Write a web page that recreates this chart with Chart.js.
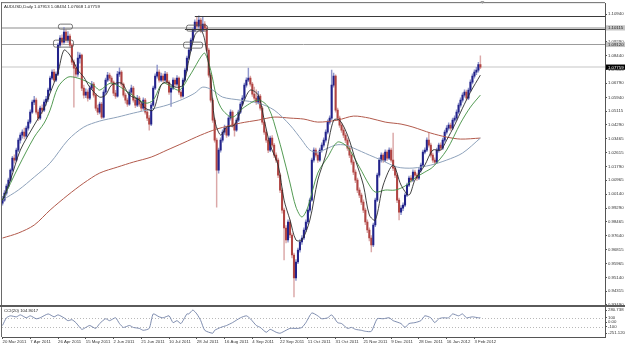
<!DOCTYPE html>
<html><head><meta charset="utf-8">
<script src="https://cdn.jsdelivr.net/npm/chart.js@4.4.1/dist/chart.umd.min.js"></script>
<style>
html,body{margin:0;padding:0;background:#fff;}
#wrap{position:relative;width:625px;height:346px;overflow:hidden;background:#fff;}
#c1{position:absolute;left:0;top:0;}
#c2{position:absolute;left:0;top:304px;}
</style></head><body>
<div id="wrap">
<canvas id="c1" width="625" height="310" style="width:625px;height:310px"></canvas>
<canvas id="c2" width="625" height="42" style="width:625px;height:42px"></canvas>
</div>
<script>
const symbolName = 'AUDUSD,Daily';
const opens = [
0.9960,0.9978,1.0020,1.0062,1.0098,1.0158,1.0230,1.0218,1.0278,1.0338,
1.0368,1.0386,1.0362,1.0410,1.0446,1.0506,1.0566,1.0578,1.0506,1.0470,
1.0530,1.0518,1.0566,1.0584,1.0638,1.0710,1.0746,1.0698,1.0734,1.0908,
1.0950,1.0926,1.0986,1.0938,1.0962,1.0908,1.0806,1.0770,1.0734,1.0830,
1.0848,1.0650,1.0608,1.0626,1.0590,1.0650,1.0674,1.0608,1.0530,1.0506,
1.0554,1.0476,1.0626,1.0698,1.0728,1.0710,1.0686,1.0620,1.0602,1.0734,
1.0746,1.0674,1.0608,1.0578,1.0554,1.0626,1.0650,1.0578,1.0548,1.0590,
1.0554,1.0530,1.0578,1.0506,1.0470,1.0434,1.0548,1.0650,1.0722,1.0746,
1.0698,1.0722,1.0698,1.0734,1.0686,1.0626,1.0650,1.0698,1.0674,1.0710,
1.0626,1.0602,1.0698,1.0758,1.0830,1.0878,1.0938,1.0998,1.1046,1.1022,
1.1058,1.0998,1.1034,1.1010,1.0878,1.0728,1.0578,1.0458,1.0338,1.0158,
1.0278,1.0338,1.0386,1.0410,1.0368,1.0470,1.0506,1.0428,1.0398,1.0458,
1.0506,1.0554,1.0590,1.0668,1.0698,1.0710,1.0674,1.0614,1.0590,1.0566,
1.0602,1.0530,1.0446,1.0386,1.0338,1.0278,1.0350,1.0308,1.0248,1.0218,
1.0128,1.0038,0.9918,0.9810,0.9738,0.9846,0.9768,0.9648,0.9510,0.9606,
0.9678,0.9726,0.9750,0.9798,0.9846,0.9918,0.9978,1.0218,1.0278,1.0248,
1.0218,1.0278,1.0308,1.0338,1.0386,1.0446,1.0470,1.0668,1.0722,1.0518,
1.0470,1.0428,1.0398,1.0368,1.0338,1.0290,1.0248,1.0206,1.0146,1.0098,
1.0038,1.0008,0.9966,0.9918,0.9846,0.9798,0.9750,0.9708,0.9828,0.9978,
1.0128,1.0218,1.0248,1.0218,1.0266,1.0230,1.0278,1.0218,1.0170,1.0128,
0.9978,0.9906,0.9930,0.9948,1.0008,1.0068,1.0110,1.0098,1.0146,1.0128,
1.0110,1.0158,1.0188,1.0266,1.0278,1.0338,1.0308,1.0248,1.0218,1.0206,
1.0278,1.0308,1.0290,1.0338,1.0386,1.0410,1.0428,1.0410,1.0458,1.0470,
1.0506,1.0548,1.0578,1.0608,1.0626,1.0590,1.0638,1.0686,1.0722,1.0746,
1.0758,1.07913];
const highs = [
1.0000,1.0035,1.0074,1.0110,1.0166,1.0240,1.0250,1.0290,1.0350,1.0382,
1.0400,1.0410,1.0422,1.0460,1.0520,1.0578,1.0600,1.0590,1.0520,1.0542,
1.0550,1.0580,1.0600,1.0650,1.0722,1.0760,1.0762,1.0748,1.0920,1.0966,
1.0970,1.1015,1.1000,1.0990,1.0975,1.0918,1.0820,1.0790,1.0866,1.0862,
1.0855,1.0668,1.0645,1.0640,1.0662,1.0690,1.0685,1.0618,1.0548,1.0566,
1.0564,1.0640,1.0710,1.0745,1.0740,1.0722,1.0694,1.0636,1.0750,1.0772,
1.0755,1.0682,1.0620,1.0590,1.0640,1.0668,1.0660,1.0590,1.0606,1.0600,
1.0568,1.0592,1.0588,1.0520,1.0485,1.0560,1.0662,1.0736,1.0788,1.0760,
1.0740,1.0735,1.0750,1.0745,1.0695,1.0665,1.0712,1.0710,1.0725,1.0718,
1.0638,1.0710,1.0770,1.0842,1.0890,1.0950,1.1010,1.1060,1.1080,1.1084,
1.1070,1.1075,1.1050,1.1020,1.0890,1.0740,1.0590,1.0470,1.0350,1.0290,
1.0352,1.0400,1.0428,1.0420,1.0482,1.0520,1.0515,1.0440,1.0470,1.0518,
1.0566,1.0605,1.0680,1.0712,1.0770,1.0722,1.0684,1.0656,1.0640,1.0630,
1.0612,1.0540,1.0458,1.0398,1.0350,1.0362,1.0365,1.0318,1.0262,1.0230,
1.0140,1.0050,0.9930,0.9825,0.9860,0.9858,0.9780,0.9660,0.9620,0.9690,
0.9740,0.9765,0.9812,0.9860,0.9930,0.9990,1.0230,1.0292,1.0290,1.0262,
1.0290,1.0322,1.0352,1.0400,1.0460,1.0484,1.0758,1.0740,1.0730,1.0530,
1.0482,1.0440,1.0412,1.0380,1.0350,1.0302,1.0262,1.0218,1.0160,1.0110,
1.0052,1.0020,0.9980,0.9930,0.9860,0.9812,0.9765,0.9840,0.9990,1.0140,
1.0232,1.0262,1.0260,1.0280,1.0278,1.0292,1.0290,1.0380,1.0182,1.0140,
0.9990,0.9945,0.9962,1.0020,1.0080,1.0122,1.0125,1.0160,1.0158,1.0140,
1.0170,1.0200,1.0278,1.0292,1.0352,1.0380,1.0320,1.0260,1.0232,1.0290,
1.0320,1.0322,1.0350,1.0398,1.0425,1.0442,1.0440,1.0470,1.0484,1.0520,
1.0560,1.0592,1.0622,1.0640,1.0638,1.0650,1.0700,1.0735,1.0760,1.0775,
1.0805,1.08434];
const lows = [
0.9948,0.9970,1.0008,1.0050,1.0090,1.0150,1.0200,1.0210,1.0268,1.0320,
1.0350,1.0345,1.0350,1.0398,1.0436,1.0498,1.0550,1.0494,1.0455,1.0460,
1.0500,1.0508,1.0548,1.0570,1.0630,1.0700,1.0685,1.0688,1.0725,1.0896,
1.0910,1.0918,1.0924,1.0925,1.0896,1.0790,1.0536,1.0715,1.0720,1.0800,
1.0635,1.0590,1.0592,1.0572,1.0580,1.0640,1.0596,1.0516,1.0490,1.0495,
1.0466,1.0470,1.0615,1.0688,1.0695,1.0672,1.0605,1.0588,1.0595,1.0720,
1.0662,1.0596,1.0560,1.0540,1.0546,1.0615,1.0566,1.0532,1.0538,1.0540,
1.0515,1.0520,1.0494,1.0455,1.0398,1.0425,1.0540,1.0640,1.0710,1.0685,
1.0688,1.0684,1.0690,1.0672,1.0612,1.0540,1.0640,1.0660,1.0664,1.0612,
1.0590,1.0595,1.0690,1.0750,1.0820,1.0870,1.0928,1.0988,1.1008,1.1010,
1.0985,1.0990,1.0995,1.0866,1.0715,1.0565,1.0444,1.0325,0.9936,1.0140,
1.0266,1.0326,1.0372,1.0354,1.0360,1.0458,1.0415,1.0362,1.0390,1.0448,
1.0496,1.0545,1.0580,1.0655,1.0688,1.0662,1.0600,1.0576,1.0552,1.0555,
1.0518,1.0432,1.0372,1.0324,1.0262,1.0268,1.0295,1.0232,1.0204,1.0112,
1.0022,0.9900,0.9618,0.9720,0.9725,0.9752,0.9630,0.9396,0.9495,0.9596,
0.9665,0.9712,0.9740,0.9788,0.9835,0.9905,0.9970,1.0205,1.0235,1.0204,
1.0210,1.0266,1.0296,1.0326,1.0375,1.0434,1.0460,1.0655,1.0505,1.0456,
1.0414,1.0384,1.0352,1.0322,1.0276,1.0232,1.0192,1.0130,1.0082,1.0022,
0.9992,0.9950,0.9902,0.9830,0.9782,0.9732,0.9666,0.9698,0.9818,0.9968,
1.0115,1.0205,1.0204,1.0208,1.0216,1.0220,1.0205,1.0155,1.0112,0.9962,
0.9858,0.9890,0.9915,0.9938,0.9998,1.0058,1.0085,1.0088,1.0115,1.0096,
1.0100,1.0146,1.0178,1.0255,1.0268,1.0295,1.0235,1.0204,1.0190,1.0196,
1.0266,1.0276,1.0280,1.0326,1.0374,1.0398,1.0396,1.0400,1.0446,1.0458,
1.0495,1.0536,1.0566,1.0596,1.0578,1.0580,1.0628,1.0675,1.0710,1.0730,
1.0745,1.07668];
const closes = [
0.9978,1.0020,1.0062,1.0098,1.0158,1.0230,1.0218,1.0278,1.0338,1.0368,
1.0386,1.0362,1.0410,1.0446,1.0506,1.0566,1.0578,1.0506,1.0470,1.0530,
1.0518,1.0566,1.0584,1.0638,1.0710,1.0746,1.0698,1.0734,1.0908,1.0950,
1.0926,1.0986,1.0938,1.0962,1.0908,1.0806,1.0770,1.0734,1.0830,1.0848,
1.0650,1.0608,1.0626,1.0590,1.0650,1.0674,1.0608,1.0530,1.0506,1.0554,
1.0476,1.0626,1.0698,1.0728,1.0710,1.0686,1.0620,1.0602,1.0734,1.0746,
1.0674,1.0608,1.0578,1.0554,1.0626,1.0650,1.0578,1.0548,1.0590,1.0554,
1.0530,1.0578,1.0506,1.0470,1.0434,1.0548,1.0650,1.0722,1.0746,1.0698,
1.0722,1.0698,1.0734,1.0686,1.0626,1.0650,1.0698,1.0674,1.0710,1.0626,
1.0602,1.0698,1.0758,1.0830,1.0878,1.0938,1.0998,1.1046,1.1022,1.1058,
1.0998,1.1034,1.1010,1.0878,1.0728,1.0578,1.0458,1.0338,1.0158,1.0278,
1.0338,1.0386,1.0410,1.0368,1.0470,1.0506,1.0428,1.0398,1.0458,1.0506,
1.0554,1.0590,1.0668,1.0698,1.0710,1.0674,1.0614,1.0590,1.0566,1.0602,
1.0530,1.0446,1.0386,1.0338,1.0278,1.0350,1.0308,1.0248,1.0218,1.0128,
1.0038,0.9918,0.9810,0.9738,0.9846,0.9768,0.9648,0.9510,0.9606,0.9678,
0.9726,0.9750,0.9798,0.9846,0.9918,0.9978,1.0218,1.0278,1.0248,1.0218,
1.0278,1.0308,1.0338,1.0386,1.0446,1.0470,1.0668,1.0722,1.0518,1.0470,
1.0428,1.0398,1.0368,1.0338,1.0290,1.0248,1.0206,1.0146,1.0098,1.0038,
1.0008,0.9966,0.9918,0.9846,0.9798,0.9750,0.9708,0.9828,0.9978,1.0128,
1.0218,1.0248,1.0218,1.0266,1.0230,1.0278,1.0218,1.0170,1.0128,0.9978,
0.9906,0.9930,0.9948,1.0008,1.0068,1.0110,1.0098,1.0146,1.0128,1.0110,
1.0158,1.0188,1.0266,1.0278,1.0338,1.0308,1.0248,1.0218,1.0206,1.0278,
1.0308,1.0290,1.0338,1.0386,1.0410,1.0428,1.0410,1.0458,1.0470,1.0506,
1.0548,1.0578,1.0608,1.0626,1.0590,1.0638,1.0686,1.0722,1.0746,1.0758,
1.07913,1.07759];

// moving averages (bar index, price)
const maFastX = [0,4,9,16,21,24,28,31,34,38,41,44,49,52,55,60,64,69,72,76,80,83,87,91,94,97,100,102,105,107,110,113,117,122,125,129,132,135,139,142,145,148,151,155,159,163,167,170,174,178,182,185,188,192,197,201,205,208,213,217,221,224,228,232,236,241];
const maFastY = [0.9978,1.0098,1.0278,1.0428,1.0530,1.0620,1.0746,1.0878,1.0848,1.0758,1.0716,1.0656,1.0596,1.0608,1.0668,1.0680,1.0608,1.0578,1.0530,1.0518,1.0668,1.0686,1.0656,1.0668,1.0818,1.0968,1.0998,1.0938,1.0698,1.0458,1.0368,1.0416,1.0428,1.0578,1.0638,1.0608,1.0458,1.0308,1.0188,0.9978,0.9858,0.9738,0.9738,0.9858,1.0098,1.0248,1.0458,1.0458,1.0368,1.0218,1.0068,0.9888,0.9858,1.0068,1.0188,1.0068,1.0008,1.0098,1.0188,1.0278,1.0278,1.0338,1.0428,1.0530,1.0626,1.0728];
const maMidX = [0,8,16,21,24,28,33,38,43,47,49,55,64,72,76,81,89,94,97,100,102,105,108,111,116,122,129,134,139,143,145,148,151,154,159,164,169,174,180,185,188,193,198,203,208,213,217,224,231,236,241];
const maMidY = [0.9978,1.0176,1.0356,1.0440,1.0518,1.0656,1.0716,1.0710,1.0686,1.0656,1.0638,1.0680,1.0620,1.0560,1.0578,1.0680,1.0638,1.0716,1.0776,1.0836,1.0860,1.0758,1.0596,1.0518,1.0476,1.0536,1.0578,1.0536,1.0356,1.0176,1.0080,0.9936,0.9876,0.9936,1.0140,1.0236,1.0326,1.0296,1.0176,1.0068,1.0026,1.0038,1.0038,1.0062,1.0110,1.0146,1.0176,1.0278,1.0440,1.0536,1.0608];
const ma50X = [0,8,16,24,33,41,49,58,66,75,83,91,97,101,106,111,120,129,137,145,151,155,159,168,173,177,185,191,199,207,216,224,232,241];
const ma50Y = [0.9978,1.0038,1.0116,1.0200,1.0338,1.0416,1.0452,1.0476,1.0500,1.0524,1.0548,1.0584,1.0620,1.0656,1.0638,1.0596,1.0578,1.0560,1.0518,1.0428,1.0338,1.0278,1.0266,1.0308,1.0308,1.0290,1.0248,1.0218,1.0176,1.0170,1.0188,1.0218,1.0260,1.0350];
const ma200X = [0,8,16,24,33,41,49,58,66,75,83,91,100,108,120,129,137,145,152,159,169,177,185,193,201,207,216,224,231,241];
const ma200Y = [0.9750,0.9780,0.9828,0.9918,1.0008,1.0080,1.0140,1.0176,1.0206,1.0236,1.0278,1.0320,1.0368,1.0404,1.0440,1.0458,1.0476,1.0470,1.0464,1.0446,1.0458,1.0482,1.0470,1.0446,1.0434,1.0416,1.0380,1.0356,1.0344,1.0350];

// CCI(20)
const cciX = [0,2,4,7,9,12,14,17,19,23,26,28,31,33,35,37,40,42,44,47,49,52,54,57,59,61,64,66,69,71,74,76,79,81,84,86,88,90,93,94,96,98,100,102,106,107,110,113,116,120,123,125,128,130,133,135,138,140,143,145,149,151,153,156,159,161,164,166,169,171,174,176,178,181,183,186,189,192,195,197,201,203,205,208,211,213,216,218,220,222,225,227,230,232,234,237,240,241];
const cciY = [-75,102,147,124,169,102,147,80,102,191,124,169,102,36,58,-9,-164,-120,-75,-142,-31,80,36,102,-31,-120,-75,-120,-142,-186,-142,191,124,102,147,-9,36,-31,191,191,280,191,36,-186,-253,-186,-120,-75,-9,102,147,80,-75,-120,-231,-164,-231,-253,-186,-142,-142,-120,-9,213,147,80,102,169,-9,-31,-142,-120,-164,-186,-209,-209,80,80,102,36,-31,-120,-31,-9,36,147,102,-9,80,102,102,191,147,191,102,124,102,104.9017];
const cciTicks = [-251.12, -100, 0, 100, 280.738];
const cciTickLabels = ['-251.120', '-100', '0.00', '100', '280.738'];
const cciLevels = [100, -100];

// axes
const priceTicks = [0.93490,0.94315,0.95140,0.95965,0.96815,0.97640,0.98465,0.99290,1.00140,1.00965,1.01790,1.02615,1.03465,1.04290,1.05115,1.05940,1.06790,1.07615,1.08440,1.09290,1.10115,1.10940];
const dateTickIdx = [0,14,28,42,56,70,84,98,112,126,140,154,168,182,196,210,224,238];
const dateLabels = ['20 Mar 2011','7 Apr 2011','26 Apr 2011','15 May 2011','2 Jun 2011','21 Jun 2011','10 Jul 2011','28 Jul 2011','16 Aug 2011','4 Sep 2011','22 Sep 2011','11 Oct 2011','31 Oct 2011','21 Nov 2011','9 Dec 2011','28 Dec 2011','16 Jan 2012','3 Feb 2012'];

// drawn objects (bar index / price)
const hLinePrices = [1.10115, 1.09120];
const zoneLines = [[97, 1.1082], [92, 1.1004]];
const boxes = [[28.2,35.3,1.1034,1.1004],[25.7,35.8,1.0938,1.0896],[92.8,103.4,1.1028,1.0992],[91.3,100.9,1.0926,1.0890]];

const N = closes.length;
const xy = (xs, ys) => xs.map((x, i) => ({x, y: ys[i]}));
const bodyData = closes.map((c, i) => ({x: i, y: [opens[i], c]}));
const wickData = closes.map((c, i) => ({x: i, y: [lows[i], highs[i]]}));
const isUp = closes.map((c, i) => c >= opens[i]);
const FONT = 'Liberation Sans, Arial, sans-serif';
const tickFont = {family: FONT, size: 4.3, lineHeight: 1};
const X_MIN = -0.25, X_MAX = 303.85;

const overlay1 = {
  id: 'overlay1',
  beforeDatasetsDraw(chart) {
    const {ctx, chartArea: a, scales: {y}} = chart;
    ctx.save();
    const last = closes[N - 1];
    const lp = Math.round(y.getPixelForValue(last));
    ctx.strokeStyle = '#d8d8d8'; ctx.lineWidth = 1.5;
    ctx.beginPath(); ctx.moveTo(a.left, lp); ctx.lineTo(a.right, lp); ctx.stroke();
    hLinePrices.forEach((p, k) => {
      const py = Math.round(y.getPixelForValue(p)) + (k === 0 ? 0 : 0.5);
      ctx.strokeStyle = k === 0 ? '#c6c6c6' : '#9c9c9c';
      ctx.lineWidth = k === 0 ? 2 : 1;
      ctx.beginPath(); ctx.moveTo(a.left, py); ctx.lineTo(a.right, py); ctx.stroke();
    });
    ctx.restore();
  },
  afterDatasetsDraw(chart) {
    const {ctx, chartArea: a, scales: {x, y}} = chart;
    ctx.save();
    ctx.strokeStyle = '#3a3a3a'; ctx.lineWidth = 1;
    zoneLines.forEach(([i0, p]) => {
      const py = Math.round(y.getPixelForValue(p)) + 0.5;
      ctx.beginPath(); ctx.moveTo(x.getPixelForValue(i0), py); ctx.lineTo(a.right, py); ctx.stroke();
    });
    ctx.strokeStyle = '#555'; ctx.lineWidth = 0.8;
    boxes.forEach(([i0, i1, pt, pb]) => {
      const x0 = x.getPixelForValue(i0), x1 = x.getPixelForValue(i1);
      const y0 = y.getPixelForValue(pt), y1 = y.getPixelForValue(pb);
      ctx.beginPath(); ctx.roundRect(x0, y0, x1 - x0, y1 - y0, 2); ctx.stroke();
    });
    ctx.restore();
  },
  afterDraw(chart) {
    const {ctx, chartArea: a, scales: {x, y}} = chart;
    ctx.save();
    ctx.strokeStyle = '#6a6a6a'; ctx.lineWidth = 1;
    ctx.beginPath(); ctx.moveTo(1.5, a.top - 1); ctx.lineTo(1.5, a.bottom); ctx.stroke();
    ctx.beginPath(); ctx.moveTo(1, a.top - 0.5); ctx.lineTo(a.right, a.top - 0.5); ctx.stroke();
    ctx.fillStyle = '#5a5a5a';
    ctx.fillRect(0, a.bottom, chart.width, 2);
    ctx.font = '4.3px ' + FONT; ctx.fillStyle = '#222'; ctx.textBaseline = 'middle'; ctx.textAlign = 'left';
    const title = symbolName + ' ' + [opens, highs, lows, closes].map(arr => arr[N - 1].toFixed(5)).join(' ');
    ctx.fillText(title, 4, 7);
    const label = (p, bg, fg) => {
      const py = y.getPixelForValue(p);
      ctx.fillStyle = bg; ctx.fillRect(a.right + 1, py - 2.6, 19, 5.2);
      ctx.fillStyle = fg; ctx.fillText(p.toFixed(5), a.right + 3, py + 0.2);
    };
    label(hLinePrices[0], '#c4c4c4', '#222');
    label(hLinePrices[1], '#c4c4c4', '#222');
    label(closes[N - 1], '#000', '#fff');
    const sx = x.getPixelForValue(N);
    ctx.fillStyle = '#a0a0a0';
    ctx.beginPath(); ctx.moveTo(sx - 2, 1); ctx.lineTo(sx + 2, 1); ctx.lineTo(sx, 4); ctx.closePath(); ctx.fill();
    ctx.restore();
  }
};

new Chart(document.getElementById('c1'), {
  type: 'bar',
  data: {
    datasets: [
      {type: 'line', data: xy(maFastX, maFastY), borderColor: '#2b2b2b', borderWidth: 0.9, pointRadius: 0, tension: 0.3, order: 1},
      {type: 'line', data: xy(maMidX, maMidY), borderColor: '#3f8f3f', borderWidth: 0.9, pointRadius: 0, tension: 0.3, order: 1},
      {type: 'line', data: xy(ma50X, ma50Y), borderColor: '#8ea2bb', borderWidth: 1, pointRadius: 0, tension: 0.3, order: 1},
      {type: 'line', data: xy(ma200X, ma200Y), borderColor: '#b25a4c', borderWidth: 1, pointRadius: 0, tension: 0.3, order: 1},
      {type: 'bar', data: bodyData, backgroundColor: isUp.map(u => u ? '#22228a' : '#b04442'), barThickness: 1.4, grouped: false, borderWidth: 0, order: 5},
      {type: 'bar', data: wickData, backgroundColor: isUp.map(u => u ? '#9097cc' : '#dba8a8'), barThickness: 0.8, grouped: false, borderWidth: 0, order: 6}
    ]
  },
  options: {
    responsive: false, animation: false, devicePixelRatio: 1,
    layout: {padding: {left: 2, top: 3, right: 0, bottom: 5}},
    plugins: {legend: {display: false}, tooltip: {enabled: false}},
    scales: {
      x: {type: 'linear', min: X_MIN, max: X_MAX, offset: false, display: false},
      y: {
        type: 'linear', position: 'right', min: 0.9348, max: 1.1160,
        afterFit: s => { s.width = 20; },
        afterBuildTicks: s => { s.ticks = priceTicks.map(v => ({value: v})); },
        ticks: {font: tickFont, color: '#333', padding: 1, callback: v => Number(v).toFixed(5)},
        grid: {drawOnChartArea: false, tickLength: 2, color: '#555'},
        border: {color: '#555'}
      }
    }
  },
  plugins: [overlay1]
});

const overlay2 = {
  id: 'overlay2',
  beforeDatasetsDraw(chart) {
    const {ctx, chartArea: a, scales: {y}} = chart;
    ctx.save();
    ctx.strokeStyle = '#b8b8b8'; ctx.lineWidth = 1; ctx.setLineDash([1, 2]);
    cciLevels.forEach(v => {
      const py = Math.round(y.getPixelForValue(v)) + 0.5;
      ctx.beginPath(); ctx.moveTo(a.left, py); ctx.lineTo(a.right, py); ctx.stroke();
    });
    ctx.restore();
  },
  afterDraw(chart) {
    const {ctx, chartArea: a} = chart;
    ctx.save();
    ctx.strokeStyle = '#6a6a6a'; ctx.lineWidth = 1;
    ctx.beginPath(); ctx.moveTo(1.5, a.top); ctx.lineTo(1.5, a.bottom); ctx.stroke();
    ctx.font = '4.3px ' + FONT; ctx.fillStyle = '#222'; ctx.textBaseline = 'middle';
    ctx.fillText('CCI(20) ' + cciY[cciY.length - 1].toFixed(4), 4, a.top + 4);
    ctx.restore();
  }
};

new Chart(document.getElementById('c2'), {
  type: 'line',
  data: {datasets: [{data: xy(cciX, cciY), borderColor: '#7080a6', borderWidth: 0.9, pointRadius: 0, tension: 0.2}]},
  options: {
    responsive: false, animation: false, devicePixelRatio: 1,
    layout: {padding: {left: 2, top: 3, right: 0, bottom: 0}},
    plugins: {legend: {display: false}, tooltip: {enabled: false}},
    scales: {
      x: {
        type: 'linear', min: X_MIN, max: X_MAX, offset: false,
        afterFit: s => { s.height = 9; },
        afterBuildTicks: s => { s.ticks = dateTickIdx.map(v => ({value: v})); },
        ticks: {autoSkip: false, maxRotation: 0, align: 'start', padding: 1, font: tickFont, color: '#333', callback: (v, i) => dateLabels[i]},
        grid: {drawOnChartArea: false, tickLength: 2, color: '#555'},
        border: {color: '#555'}
      },
      y: {
        type: 'linear', position: 'right', min: -340, max: 347,
        afterFit: s => { s.width = 20; },
        afterBuildTicks: s => { s.ticks = cciTicks.map(v => ({value: v})); },
        ticks: {font: tickFont, color: '#333', padding: 1, callback: (v, i) => cciTickLabels[i]},
        grid: {drawOnChartArea: false, tickLength: 2, color: '#555'},
        border: {color: '#555'}
      }
    }
  },
  plugins: [overlay2]
});
</script>
</body></html>
